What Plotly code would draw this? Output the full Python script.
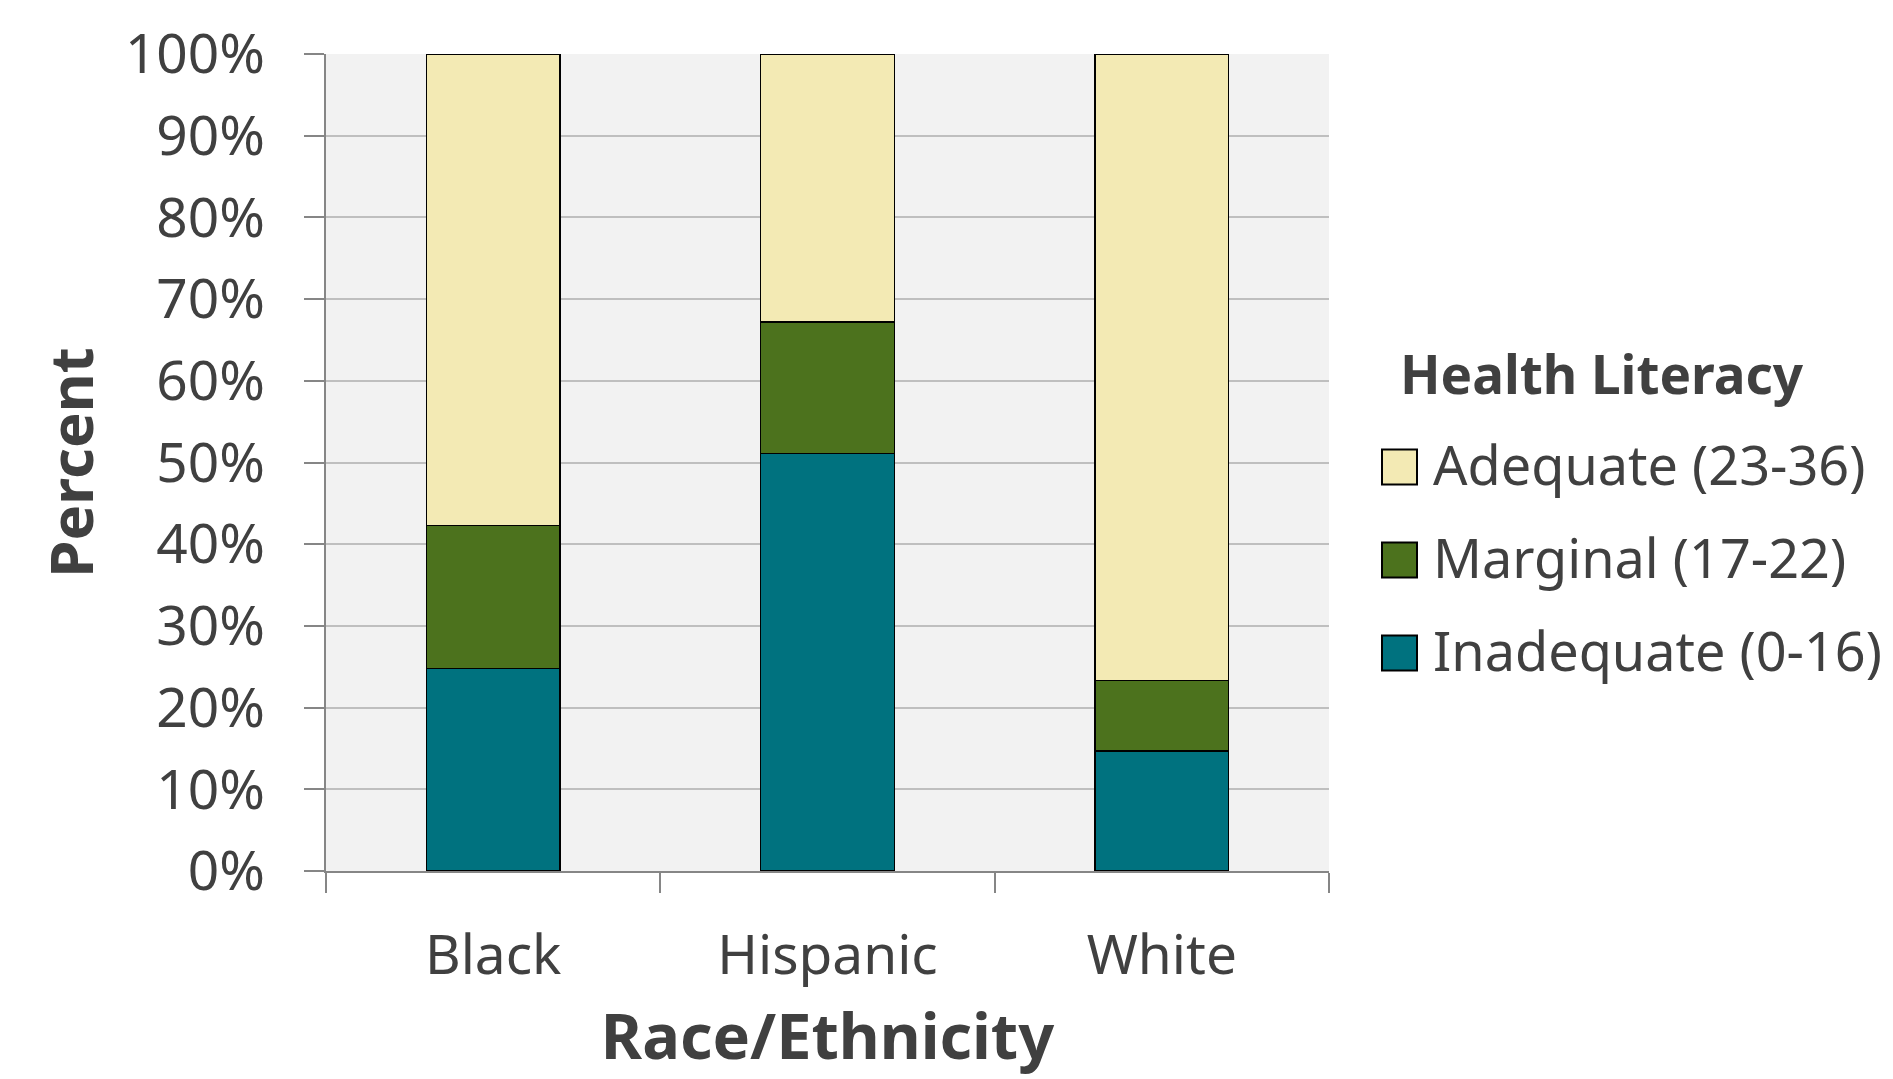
import plotly.graph_objects as go

# Health literacy by race/ethnicity (percent of respondents)
categories = ["Black", "Hispanic", "White"]
series_names = ["Inadequate (0-16)", "Marginal (17-22)", "Adequate (23-36)"]
inadequate = [24.8, 51.1, 14.7]
marginal = [17.5, 16.1, 8.6]
adequate = [57.7, 32.8, 76.7]
series_values = [inadequate, marginal, adequate]
series_colors = ["#00727F", "#4C721D", "#F3EAB4"]

y_ticks = [0, 10, 20, 30, 40, 50, 60, 70, 80, 90, 100]
y_tick_labels = [f"{v}%" for v in y_ticks]

FONT = "Noto Sans"
TEXT = "#404040"
W, H = 1893, 1079
ML, MR, MT, MB = 326, 564, 54, 208
PW, PH = W - ML - MR, H - MT - MB


def px_x(px):
    return (px - ML) / PW


def px_y(py):
    return (H - MB - py) / PH


fig = go.Figure()
for name, vals, col in zip(series_names, series_values, series_colors):
    fig.add_trace(go.Bar(
        x=categories, y=vals, name=name,
        marker=dict(color=col, line=dict(color="#000000", width=1.5)),
        width=0.4, showlegend=False,
    ))

# Legend drawn with large swatches
fig.add_annotation(
    x=px_x(1398), y=px_y(373), xref="paper", yref="paper",
    text="<b>Health Literacy</b>", showarrow=False,
    xanchor="left", yanchor="middle",
    font=dict(family=FONT, size=53, color=TEXT),
)
legend_centers = [653, 560, 467]
for name, col, cy in zip(series_names, series_colors, legend_centers):
    fig.add_shape(
        type="rect", xref="paper", yref="paper",
        x0=px_x(1382), x1=px_x(1417), y0=px_y(cy + 17.5), y1=px_y(cy - 17.5),
        fillcolor=col, line=dict(color="#000000", width=2),
    )
    fig.add_annotation(
        x=px_x(1431), y=px_y(cy - 3), xref="paper", yref="paper",
        text=name, showarrow=False, xanchor="left", yanchor="middle",
        font=dict(family=FONT, size=54, color=TEXT),
    )

fig.update_layout(
    width=W, height=H,
    margin=dict(l=ML, r=MR, t=MT, b=MB, pad=0),
    barmode="stack",
    paper_bgcolor="#FFFFFF",
    plot_bgcolor="#F2F2F2",
    font=dict(family=FONT, color=TEXT),
    showlegend=False,
)
fig.update_xaxes(
    type="category", tickson="boundaries",
    ticks="outside", ticklen=20, tickwidth=2, tickcolor="#868686",
    showline=True, linecolor="#868686", linewidth=2,
    showgrid=False, automargin=False,
    tickfont=dict(family=FONT, size=55, color=TEXT),
    ticklabelstandoff=35,
    title=dict(text="<b>Race/Ethnicity</b>", standoff=26,
               font=dict(family=FONT, size=63, color=TEXT)),
)
fig.update_yaxes(
    range=[0, 100], tickvals=y_ticks, ticktext=y_tick_labels,
    ticks="outside", ticklen=20, tickwidth=2, tickcolor="#868686",
    showline=True, linecolor="#868686", linewidth=2,
    showgrid=True, gridcolor="#BFBFBF", gridwidth=2,
    zeroline=False, automargin=False,
    tickfont=dict(family=FONT, size=55, color=TEXT),
    ticklabelstandoff=28,
    title=dict(text="<b>Percent</b>", standoff=12,
               font=dict(family=FONT, size=60, color=TEXT)),
)

fig.write_html("out.html")
